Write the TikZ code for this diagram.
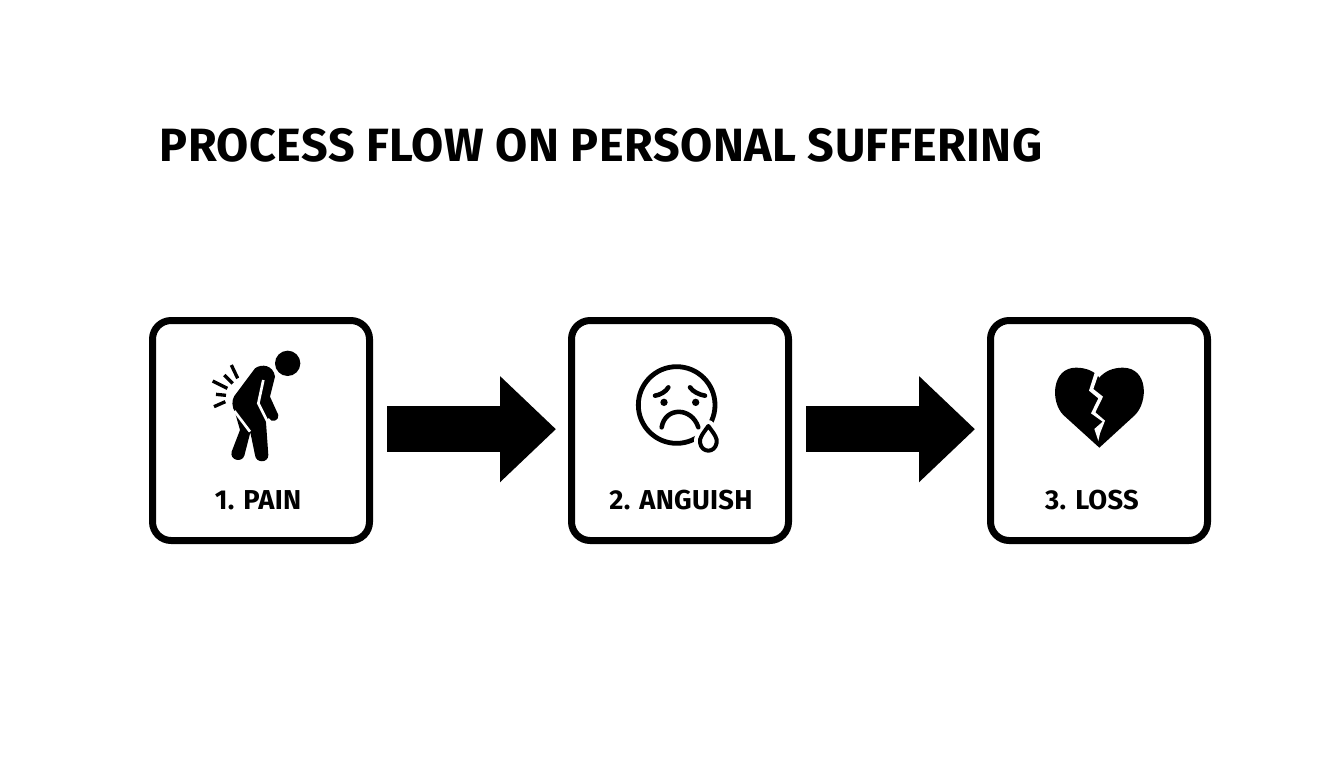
\documentclass[tikz,border=0pt]{standalone}
\usepackage{fontspec}
\setmainfont{Fira Sans}
\newfontfamily\titlefont[LetterSpace=1.0]{Fira Sans}
\newfontfamily\labelfont[LetterSpace=1.0]{Fira Sans}
\usetikzlibrary{arrows.meta}
\tikzset{
    stepbox/.style={draw=black, line width=5.25pt, rounded corners=14pt, minimum width=162.75pt, minimum height=165pt, fill=white},
    steplabel/.style={text=black, font=\labelfont\fontsize{20.5pt}{24pt}\selectfont\bfseries},
    flowarrow/.style={draw=black, line width=34.5pt, -{Triangle[length=42pt,width=77pt,color=black]}, shorten <=10.5pt, shorten >=9pt},
    ray/.style={draw=black, line width=2.5pt},
    faceline/.style={draw=black, line width=3.4pt, line cap=round}
}
\begin{document}
\begin{tikzpicture}[x=0.75pt,y=-0.75pt]
    \useasboundingbox (0,0) rectangle (1344,768);
    \node[anchor=west, text=black, font=\titlefont\fontsize{35pt}{40pt}\selectfont\bfseries] (title) at (155,145) {PROCESS FLOW ON PERSONAL SUFFERING};

    \node[stepbox] (pain) at (261,430.5) {};
    \node[stepbox] (anguish) at (680,430.5) {};
    \node[stepbox] (loss) at (1099,430.5) {};
    \node[steplabel] (painlabel) at (258,500) {1. PAIN};
    \node[steplabel] (anguishlabel) at (681,500) {2. ANGUISH};
    \node[steplabel] (losslabel) at (1092,500) {3. LOSS};

    \draw[flowarrow] ([yshift=1pt]pain.east) -- ([yshift=1pt]anguish.west);
    \draw[flowarrow] ([yshift=1pt]anguish.east) -- ([yshift=1pt]loss.west);

    % bent figure
    \begin{scope}[shift={(190,335)},x=0.25pt,y=-0.25pt]
        \fill (293,85) circle (38);
        \fill (133,183) -- (195,100) .. controls (215,85) and (250,90) .. (255,125)
            -- (240,185) -- (265,240) .. controls (268,258) and (243,265) .. (236,248)
            -- (228,262) -- (235,360) .. controls (235,385) and (197,385) .. (195,360)
            -- (181,292) -- (163,362) .. controls (155,385) and (118,375) .. (125,350)
            -- (150,285) -- (135,232) .. controls (125,215) and (125,195) .. (133,183) -- cycle;
        \draw[white, line width=2pt] (220,135) -- (205,205) -- (235,265);
        \draw[white, line width=2pt] (133,228) -- (180,290);
        \draw[ray] (68,138) -- (112,160);
        \draw[ray] (103,120) -- (128,145);
        \draw[ray] (124,90) -- (143,130);
        \draw[ray] (78,178) -- (108,181);
        \draw[ray] (72,215) -- (106,200);
    \end{scope}

    % sad face
    \begin{scope}[shift={(620,350)},x=0.25pt,y=-0.25pt]
        \draw[line width=3.6pt] (170,165) circle (115);
        \draw[white, line width=9pt, line join=round] (265,228) .. controls (285,255) and (292,265) .. (290,278)
            .. controls (285,310) and (245,310) .. (240,278) .. controls (238,265) and (245,255) .. (265,228) -- cycle;
        \draw[line width=3pt, line join=round] (265,228) .. controls (285,255) and (292,265) .. (290,278)
            .. controls (285,310) and (245,310) .. (240,278) .. controls (238,265) and (245,255) .. (265,228) -- cycle;
        \fill (132,157) circle (11);
        \fill (227,157) circle (11);
        \draw[faceline] (105,137) .. controls (120,135) and (138,125) .. (145,112);
        \draw[faceline] (255,137) .. controls (240,135) and (218,125) .. (210,112);
        \draw[faceline] (125,232) .. controls (135,170) and (215,170) .. (235,232);
    \end{scope}

    % broken heart
    \begin{scope}[shift={(1040,355)},x=0.25pt,y=-0.25pt]
        \fill (178,278) -- (70,180) .. controls (30,140) and (35,38) .. (108,38)
            .. controls (140,38) and (165,50) .. (178,68) .. controls (195,48) and (220,38) .. (248,38)
            .. controls (325,38) and (325,140) .. (285,180) -- cycle;
        \fill[white] (165,50) -- (147,107) -- (175,130) -- (153,175) -- (188,200) -- (163,222) -- (175,258)
            -- (180,235) -- (195,197) -- (166,172) -- (189,125) -- (160,102) -- (178,50) -- cycle;
    \end{scope}
\end{tikzpicture}
\end{document}
